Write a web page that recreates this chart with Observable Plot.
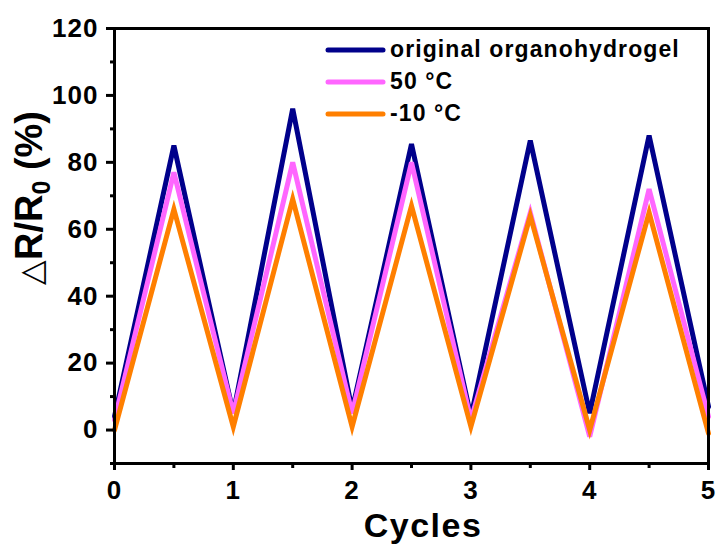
<!DOCTYPE html>
<html>
<head>
<meta charset="utf-8">
<script src="https://cdn.jsdelivr.net/npm/d3@7"></script>
<script src="https://cdn.jsdelivr.net/npm/@observablehq/plot@0.6"></script>
<style>
  html, body { margin: 0; padding: 0; background: #fff; }
  #chart { position: relative; width: 719px; height: 549px; }
  svg { font-family: "Liberation Sans", Arial, sans-serif; }
</style>
</head>
<body>
<div id="chart"></div>
<script>
const cycles = [0, 0.5, 1, 1.5, 2, 2.5, 3, 3.5, 4, 4.5, 5];
const original = [4, 85, 5, 96, 6, 85.5, 4, 86.5, 5, 88, 7];
const hot50 = [3, 77, 5, 80, 5, 80, 3, 65, -2, 72, 4];
const cold10 = [0, 66, 1, 69, 1, 67, 1, 64, 0, 65, -1];
const seriesNames = ["original organohydrogel", "50 \u00B0C", "-10 \u00B0C"];
const seriesColors = ["#00008B", "#FF66FF", "#FF7F00"];
const xMajor = [0, 1, 2, 3, 4, 5];
const xMinor = [0.5, 1.5, 2.5, 3.5, 4.5];
const yMajor = [0, 20, 40, 60, 80, 100, 120];
const yMinor = [-10, 10, 30, 50, 70, 90, 110];

const seriesValues = [original, hot50, cold10];
const data = [];
seriesValues.forEach((vals, s) => {
  vals.forEach((v, i) => data.push({series: seriesNames[s], x: cycles[i], y: v}));
});

const plot = Plot.plot({
  width: 719,
  height: 549,
  marginLeft: 114,
  marginRight: 11,
  marginTop: 28,
  marginBottom: 86,
  x: {domain: [0, 5]},
  y: {domain: [-10, 120]},
  style: {background: "white", fontFamily: "Liberation Sans, Arial, sans-serif"},
  marks: [
    ...seriesNames.map((name, s) => Plot.line(data.filter(d => d.series === name), {
      x: "x", y: "y", stroke: seriesColors[s], strokeWidth: 5,
      strokeLinejoin: "miter", strokeMiterlimit: 4
    })),
    Plot.frame({stroke: "black", strokeWidth: 3}),
    Plot.axisX({ticks: xMajor, tickSize: 7, tickPadding: 10, strokeWidth: 3, fontSize: 26, fontWeight: "bold", fill: "black", label: null, tickFormat: d => String(d)}),
    Plot.axisX({ticks: xMinor, tickSize: 5, strokeWidth: 3, text: null, label: null}),
    Plot.axisY({ticks: yMajor, tickSize: 8, tickPadding: 8, strokeWidth: 3, fontSize: 26, fontWeight: "bold", fill: "black", label: null, tickFormat: d => String(d)}),
    Plot.axisY({ticks: yMinor, tickSize: 4, strokeWidth: 3, text: null, label: null})
  ]
});
document.getElementById("chart").appendChild(plot);

const svg = d3.select(plot);
// tick label spacing
svg.selectAll("g[aria-label='x-axis tick label'] text, g[aria-label='y-axis tick label'] text")
  .attr("letter-spacing", 1);

// x axis title
svg.append("text")
  .attr("x", 423).attr("y", 537)
  .attr("text-anchor", "middle")
  .attr("font-size", 34).attr("font-weight", "bold").attr("fill", "black")
  .attr("letter-spacing", 1.5)
  .text("Cycles");
// y axis title
const yt = svg.append("text")
  .attr("transform", "translate(42,198) rotate(-90)")
  .attr("text-anchor", "middle")
  .attr("font-size", 38).attr("font-weight", "bold").attr("fill", "black");
yt.append("tspan").attr("font-weight", "normal").attr("font-size", 32).text("\u25B3");
yt.append("tspan").text("R/R");
yt.append("tspan").attr("font-size", 25).attr("dy", 8).text("0");
yt.append("tspan").attr("dy", -8).text(" (%)");

// legend
const lg = svg.append("g");
seriesNames.forEach((name, i) => {
  const yy = 50 + i * 32;
  lg.append("line").attr("x1", 328).attr("x2", 383).attr("y1", yy).attr("y2", yy)
    .attr("stroke", seriesColors[i]).attr("stroke-width", 5).attr("stroke-linecap", "round");
  lg.append("text").attr("x", 390).attr("y", yy + 7)
    .attr("text-anchor", "start")
    .attr("font-size", 23).attr("font-weight", "bold").attr("fill", "black")
    .attr("letter-spacing", 1.1)
    .text(name);
});
</script>
</body>
</html>
